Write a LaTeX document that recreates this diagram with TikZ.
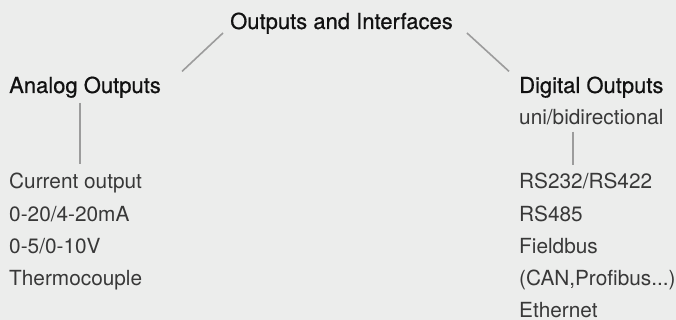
\documentclass[tikz,border=0pt]{standalone}
\usepackage{fontspec}
\setmainfont{TeX Gyre Heros}
\newfontfamily\headfont[FakeBold=0.6]{TeX Gyre Heros}
\usepackage{xcolor}
\usetikzlibrary{calc}
\definecolor{bggray}{HTML}{ECEDEC}
\definecolor{headtext}{HTML}{111111}
\definecolor{itemtext}{HTML}{383838}
\definecolor{linkgray}{HTML}{9C9C9C}
\newcommand{\busdots}{...}

\begin{document}
\begin{tikzpicture}[x=1pt, y=-1pt,
    head/.style={inner sep=0, anchor=base west, text=headtext, font=\headfont\fontsize{22}{26}\selectfont},
    item/.style={inner sep=0, anchor=base west, text=itemtext, font=\fontsize{20.8}{25}\selectfont},
    link/.style={draw=linkgray, line width=1.6pt}]
% Background
\fill[bggray] (0,0) rectangle (676,320);
% Headings
\node[head] (top) at (230,29) {Outputs and Interfaces};
\node[head] (analog) at (9,93) {Analog Outputs};
\node[head] (digital) at (519,93) {Digital Outputs};
\node[item] (mode) at (519,125) {uni/bidirectional};
% Lists
\foreach \t [count=\i] in {Current output, 0-20/4-20mA, 0-5/0-10V, Thermocouple}
    \node[item] (a\i) at (9,157+32*\i) {\t};
\foreach \t [count=\i] in {RS232/RS422, RS485, Fieldbus, {(CAN,Profibus\busdots)}, Ethernet}
    \node[item] (d\i) at (519,157+32*\i) {\t};
% Connections
\draw[link] ($(top.south west)+(-7,-1)$) -- ($(analog.north east)+(21,-5)$);
\draw[link] ($(top.south east)+(14,-1)$) -- ($(digital.north west)+(-10,-5)$);
\draw[link] ($(analog.south west)+(71,5)$) -- ($(a1.north west)+(71,-9)$);
\draw[link] ($(mode.south west)+(54,6)$) -- ($(d1.north west)+(54,-8)$);
\end{tikzpicture}
\end{document}
